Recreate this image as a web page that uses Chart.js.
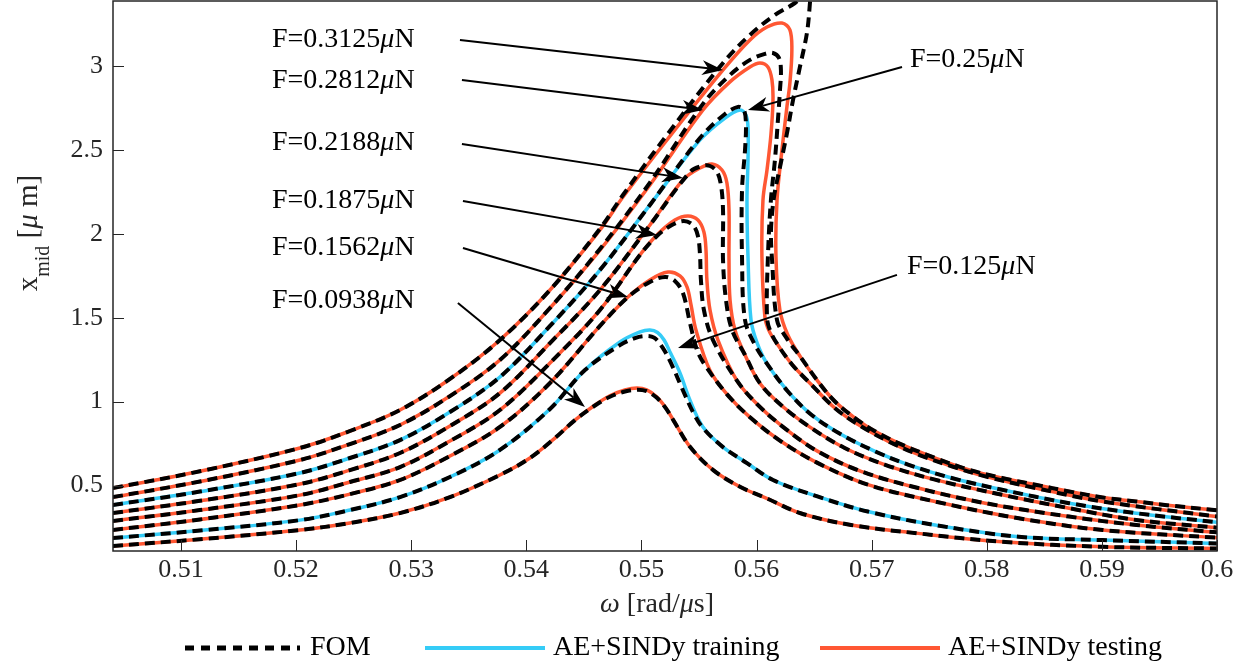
<!DOCTYPE html>
<html>
<head>
<meta charset="utf-8">
<script src="https://cdn.jsdelivr.net/npm/chart.js@4.4.0/dist/chart.umd.min.js"></script>
<style>
  html, body { margin: 0; padding: 0; background: #fff; }
  #wrap { width: 1248px; height: 666px; }
</style>
</head>
<body>
<div id="wrap"><canvas id="freqResp"></canvas></div>
<script>
// forcing amplitudes [uN]; the two training cases are drawn in blue
var forces = [0.0938, 0.125, 0.1562, 0.1875, 0.2188, 0.25, 0.2812, 0.3125];
var trainingForces = [0.125, 0.25];
var xTicks = [0.51, 0.52, 0.53, 0.54, 0.55, 0.56, 0.57, 0.58, 0.59, 0.6];
var yTicks = [0.5, 1, 1.5, 2, 2.5, 3];
var legendLabels = ['FOM', 'AE+SINDy training', 'AE+SINDy testing'];

// frequency response curves, [omega (rad/us), x_mid (um)], in sweep order
var rom0938 = [[0.50409,0.140],[0.51165,0.180],[0.52034,0.235],[0.52468,0.277],[0.52903,0.336],[0.53337,0.431],[0.53771,0.563],[0.54032,0.664],[0.54249,0.783],[0.54423,0.890],[0.54597,0.980],[0.54727,1.035],[0.54857,1.069],[0.54961,1.081],[0.55046,1.070],[0.55132,1.029],[0.55210,0.965],[0.55277,0.890],[0.55422,0.731],[0.55624,0.592],[0.55856,0.493],[0.56088,0.424],[0.56383,0.335],[0.56821,0.265],[0.57404,0.215],[0.58133,0.165],[0.59007,0.135],[0.60000,0.125]];
var fom0938 = [[0.50409,0.140],[0.51165,0.180],[0.52034,0.235],[0.52468,0.277],[0.52903,0.336],[0.53337,0.431],[0.53771,0.563],[0.54032,0.664],[0.54249,0.783],[0.54423,0.890],[0.54597,0.977],[0.54727,1.029],[0.54857,1.060],[0.54961,1.071],[0.55046,1.062],[0.55132,1.024],[0.55210,0.963],[0.55277,0.890],[0.55422,0.731],[0.55624,0.592],[0.55856,0.493],[0.56088,0.424],[0.56383,0.335],[0.56821,0.265],[0.57404,0.215],[0.58133,0.165],[0.59007,0.135],[0.60000,0.125]];

var rom125 = [[0.50409,0.187],[0.51165,0.232],[0.52034,0.294],[0.52468,0.354],[0.52903,0.431],[0.53337,0.551],[0.53771,0.712],[0.54206,0.956],[0.54510,1.188],[0.54814,1.355],[0.54988,1.415],[0.55074,1.427],[0.55140,1.412],[0.55197,1.367],[0.55254,1.288],[0.55335,1.171],[0.55422,1.009],[0.55535,0.849],[0.55709,0.729],[0.55917,0.634],[0.56143,0.533],[0.56529,0.435],[0.56967,0.345],[0.57550,0.265],[0.58278,0.195],[0.59007,0.175],[0.60000,0.155]];
var fom125 = [[0.50409,0.187],[0.51165,0.232],[0.52034,0.294],[0.52468,0.354],[0.52903,0.431],[0.53337,0.551],[0.53771,0.712],[0.54206,0.956],[0.54510,1.188],[0.54814,1.337],[0.54944,1.379],[0.55031,1.391],[0.55110,1.381],[0.55187,1.319],[0.55265,1.218],[0.55352,1.081],[0.55448,0.938],[0.55535,0.843],[0.55709,0.729],[0.55917,0.634],[0.56143,0.533],[0.56529,0.435],[0.56967,0.345],[0.57550,0.265],[0.58278,0.195],[0.59007,0.175],[0.60000,0.155]];

var rom1562 = [[0.50409,0.235],[0.51165,0.298],[0.52034,0.384],[0.52468,0.449],[0.52903,0.533],[0.53337,0.676],[0.53771,0.849],[0.54206,1.111],[0.54640,1.451],[0.54883,1.623],[0.55074,1.725],[0.55231,1.772],[0.55335,1.749],[0.55396,1.683],[0.55431,1.576],[0.55474,1.427],[0.55596,1.185],[0.55742,1.045],[0.55946,0.905],[0.56209,0.765],[0.56529,0.635],[0.56967,0.505],[0.57550,0.405],[0.58278,0.305],[0.59007,0.235],[0.60000,0.189]];
var fom1562 = [[0.50409,0.235],[0.51165,0.298],[0.52034,0.384],[0.52468,0.449],[0.52903,0.533],[0.53337,0.676],[0.53771,0.849],[0.54206,1.111],[0.54640,1.451],[0.54883,1.623],[0.55074,1.713],[0.55205,1.743],[0.55291,1.719],[0.55361,1.647],[0.55422,1.469],[0.55483,1.308],[0.55552,1.218],[0.55742,1.045],[0.55946,0.905],[0.56209,0.765],[0.56529,0.635],[0.56967,0.505],[0.57550,0.405],[0.58278,0.305],[0.59007,0.235],[0.60000,0.189]];

var rom1875 = [[0.50409,0.289],[0.51165,0.354],[0.52034,0.443],[0.52468,0.521],[0.52903,0.610],[0.53337,0.765],[0.53771,0.950],[0.54206,1.230],[0.54640,1.546],[0.54987,1.874],[0.55135,1.993],[0.55291,2.082],[0.55404,2.106],[0.55491,2.082],[0.55543,2.011],[0.55561,1.904],[0.55569,1.725],[0.55596,1.546],[0.55665,1.367],[0.55830,1.125],[0.56005,0.985],[0.56238,0.845],[0.56529,0.705],[0.56908,0.585],[0.57404,0.485],[0.57987,0.395],[0.58716,0.315],[0.59299,0.265],[0.60000,0.221]];
var fom1875 = [[0.50409,0.289],[0.51165,0.354],[0.52034,0.443],[0.52468,0.521],[0.52903,0.610],[0.53337,0.765],[0.53771,0.950],[0.54206,1.230],[0.54640,1.546],[0.54987,1.874],[0.55135,1.987],[0.55265,2.052],[0.55369,2.076],[0.55448,2.052],[0.55491,1.987],[0.55509,1.874],[0.55517,1.725],[0.55543,1.546],[0.55622,1.367],[0.55830,1.125],[0.56005,0.985],[0.56238,0.845],[0.56529,0.705],[0.56908,0.585],[0.57404,0.485],[0.57987,0.395],[0.58716,0.315],[0.59299,0.265],[0.60000,0.221]];

var rom2188 = [[0.50409,0.336],[0.51165,0.409],[0.52034,0.509],[0.52468,0.592],[0.52903,0.694],[0.53337,0.855],[0.53771,1.051],[0.54206,1.349],[0.54640,1.665],[0.55074,2.052],[0.55361,2.321],[0.55509,2.392],[0.55613,2.416],[0.55700,2.380],[0.55743,2.303],[0.55761,2.142],[0.55761,1.844],[0.55770,1.605],[0.55813,1.427],[0.55900,1.278],[0.56034,1.105],[0.56238,0.965],[0.56471,0.845],[0.56762,0.725],[0.57112,0.625],[0.57550,0.535],[0.58133,0.445],[0.58716,0.365],[0.59299,0.295],[0.60000,0.249]];
var fom2188 = [[0.50409,0.336],[0.51165,0.409],[0.52034,0.509],[0.52468,0.592],[0.52903,0.694],[0.53337,0.855],[0.53771,1.051],[0.54206,1.349],[0.54640,1.665],[0.55074,2.052],[0.55422,2.368],[0.55526,2.404],[0.55596,2.404],[0.55657,2.368],[0.55691,2.291],[0.55709,2.142],[0.55709,1.844],[0.55735,1.605],[0.55787,1.427],[0.55900,1.278],[0.56034,1.105],[0.56238,0.965],[0.56471,0.845],[0.56762,0.725],[0.57112,0.625],[0.57550,0.535],[0.58133,0.445],[0.58716,0.365],[0.59299,0.295],[0.60000,0.249]];

var rom25 = [[0.50409,0.384],[0.51165,0.464],[0.52034,0.575],[0.52468,0.664],[0.52903,0.771],[0.53337,0.938],[0.53771,1.147],[0.54206,1.451],[0.54640,1.784],[0.55074,2.172],[0.55509,2.559],[0.55726,2.690],[0.55856,2.738],[0.55908,2.708],[0.55926,2.636],[0.55926,2.440],[0.55917,2.201],[0.55926,1.862],[0.55952,1.486],[0.56005,1.350],[0.56092,1.225],[0.56267,1.065],[0.56471,0.925],[0.56733,0.805],[0.57025,0.705],[0.57316,0.625],[0.57695,0.545],[0.58133,0.475],[0.58716,0.395],[0.59299,0.335],[0.60000,0.281]];
var fom25 = [[0.50409,0.384],[0.51165,0.464],[0.52034,0.575],[0.52468,0.664],[0.52903,0.771],[0.53337,0.938],[0.53771,1.147],[0.54206,1.451],[0.54640,1.784],[0.55074,2.172],[0.55509,2.571],[0.55726,2.714],[0.55839,2.756],[0.55891,2.738],[0.55908,2.648],[0.55900,2.499],[0.55874,2.261],[0.55874,1.862],[0.55900,1.486],[0.55987,1.337],[0.56092,1.225],[0.56267,1.065],[0.56471,0.925],[0.56733,0.805],[0.57025,0.705],[0.57316,0.625],[0.57695,0.545],[0.58133,0.475],[0.58716,0.395],[0.59299,0.335],[0.60000,0.281]];

var rom2812 = [[0.50409,0.431],[0.51165,0.524],[0.52034,0.652],[0.52468,0.747],[0.52903,0.861],[0.53337,1.033],[0.53771,1.248],[0.54206,1.558],[0.54640,1.903],[0.55074,2.291],[0.55535,2.738],[0.55769,2.905],[0.55943,2.994],[0.56030,3.018],[0.56099,2.994],[0.56134,2.917],[0.56143,2.797],[0.56125,2.589],[0.56091,2.380],[0.56056,2.201],[0.56047,1.862],[0.56073,1.504],[0.56110,1.420],[0.56186,1.337],[0.56310,1.220],[0.56471,1.105],[0.56675,0.965],[0.56879,0.865],[0.57141,0.765],[0.57404,0.685],[0.57695,0.615],[0.57987,0.555],[0.58424,0.485],[0.59007,0.405],[0.60000,0.315]];
var fom2812 = [[0.50409,0.431],[0.51165,0.524],[0.52034,0.652],[0.52468,0.747],[0.52903,0.861],[0.53337,1.033],[0.53771,1.248],[0.54206,1.558],[0.54640,1.910],[0.55074,2.305],[0.55535,2.774],[0.55769,2.946],[0.55943,3.036],[0.56073,3.072],[0.56143,3.077],[0.56195,3.048],[0.56212,2.976],[0.56204,2.857],[0.56186,2.678],[0.56160,2.440],[0.56125,2.201],[0.56099,1.862],[0.56091,1.504],[0.56120,1.420],[0.56186,1.337],[0.56310,1.220],[0.56471,1.105],[0.56675,0.965],[0.56879,0.865],[0.57141,0.765],[0.57404,0.685],[0.57695,0.615],[0.57987,0.555],[0.58424,0.485],[0.59007,0.405],[0.60000,0.315]];

var rom3125 = [[0.50409,0.485],[0.51165,0.585],[0.52034,0.724],[0.52468,0.825],[0.52903,0.950],[0.53337,1.135],[0.53771,1.367],[0.54206,1.665],[0.54640,2.023],[0.54840,2.219],[0.55222,2.559],[0.55709,2.976],[0.55943,3.155],[0.56091,3.232],[0.56221,3.256],[0.56290,3.215],[0.56307,3.095],[0.56290,2.899],[0.56264,2.756],[0.56221,2.499],[0.56178,2.201],[0.56169,1.862],[0.56203,1.546],[0.56270,1.400],[0.56383,1.265],[0.56529,1.125],[0.56675,1.005],[0.56850,0.905],[0.57025,0.825],[0.57258,0.745],[0.57550,0.665],[0.57841,0.595],[0.58133,0.545],[0.58424,0.505],[0.58716,0.465],[0.59007,0.429],[0.59299,0.405],[0.59590,0.381],[0.60000,0.353]];
var fom3125 = [[0.50409,0.485],[0.51165,0.585],[0.52034,0.724],[0.52468,0.825],[0.52903,0.950],[0.53337,1.135],[0.53771,1.367],[0.54206,1.665],[0.54640,2.030],[0.54840,2.231],[0.55222,2.589],[0.55709,3.018],[0.55943,3.185],[0.56160,3.304],[0.56334,3.375],[0.56421,3.429],[0.56464,3.417],[0.56464,3.375],[0.56438,3.197],[0.56377,2.994],[0.56317,2.797],[0.56265,2.601],[0.56204,2.398],[0.56152,2.219],[0.56126,2.023],[0.56135,1.844],[0.56178,1.486],[0.56260,1.380],[0.56383,1.265],[0.56529,1.125],[0.56675,1.005],[0.56850,0.905],[0.57025,0.825],[0.57258,0.745],[0.57550,0.665],[0.57841,0.595],[0.58133,0.545],[0.58424,0.505],[0.58716,0.465],[0.59007,0.429],[0.59299,0.405],[0.59590,0.381],[0.60000,0.353]];

var romCurves = [rom0938, rom125, rom1562, rom1875, rom2188, rom25, rom2812, rom3125];
var fomCurves = [fom0938, fom125, fom1562, fom1875, fom2188, fom25, fom2812, fom3125];

var RED = '#ff5733';
var BLUE = '#35ccf7';
var AXIS = '#262626';
var SERIF = '"Liberation Serif", "Times New Roman", serif';

// F labels with arrows, placed in data coordinates
var annotations = [
  { force: 0.3125, at: [0.51791, 3.155], from: [0.53424, 3.155], to: [0.55709, 2.976] },
  { force: 0.2812, at: [0.51791, 2.911], from: [0.53441, 2.917], to: [0.55535, 2.738] },
  { force: 0.2188, at: [0.51791, 2.544], from: [0.53441, 2.535], to: [0.55361, 2.333] },
  { force: 0.1875, at: [0.51791, 2.195], from: [0.53450, 2.195], to: [0.55135, 1.993] },
  { force: 0.1562, at: [0.51791, 1.918], from: [0.53450, 1.915], to: [0.54883, 1.623] },
  { force: 0.0938, at: [0.51791, 1.600], from: [0.53406, 1.588], to: [0.54510, 0.968] },
  { force: 0.25,   at: [0.57333, 3.036], from: [0.57264, 2.994], to: [0.55926, 2.738] },
  { force: 0.125,  at: [0.57307, 1.802], from: [0.57220, 1.755], to: [0.55318, 1.319] }
];

function toPoints(arr) {
  return arr.map(function (p) { return { x: p[0], y: p[1] }; });
}

var datasets = [];
forces.forEach(function (f, i) {
  datasets.push({
    label: legendLabels[0],
    data: toPoints(fomCurves[i]),
    borderColor: '#000',
    borderWidth: 4,
    borderDash: [10, 6],
    order: 0
  });
});
forces.forEach(function (f, i) {
  var training = trainingForces.indexOf(f) >= 0;
  datasets.push({
    label: training ? legendLabels[1] : legendLabels[2],
    data: toPoints(romCurves[i]),
    borderColor: training ? BLUE : RED,
    borderWidth: 3.5,
    order: training ? 2 : 1
  });
});

// draws runs of text where some parts are italic (math symbols)
function richWidth(ctx, parts, size) {
  var w = 0;
  parts.forEach(function (p) {
    ctx.font = (p.it ? 'italic ' : '') + (p.size || size) + 'px ' + SERIF;
    w += ctx.measureText(p.t).width;
  });
  return w;
}
function drawRich(ctx, parts, x, y, size, align) {
  var w = richWidth(ctx, parts, size);
  var cx = align === 'center' ? x - w / 2 : x;
  parts.forEach(function (p) {
    ctx.font = (p.it ? 'italic ' : '') + (p.size || size) + 'px ' + SERIF;
    ctx.fillText(p.t, cx, y + (p.dy || 0));
    cx += ctx.measureText(p.t).width;
  });
}

function drawArrow(ctx, x0, y0, x1, y1) {
  var ang = Math.atan2(y1 - y0, x1 - x0);
  var len = 21, half = 7.5, notch = 15;
  ctx.beginPath();
  ctx.moveTo(x0, y0);
  ctx.lineTo(x1 - notch * Math.cos(ang), y1 - notch * Math.sin(ang));
  ctx.stroke();
  ctx.save();
  ctx.translate(x1, y1);
  ctx.rotate(ang);
  ctx.beginPath();
  ctx.moveTo(0, 0);
  ctx.lineTo(-len, -half);
  ctx.lineTo(-notch, 0);
  ctx.lineTo(-len, half);
  ctx.closePath();
  ctx.fill();
  ctx.restore();
}

var decorations = {
  id: 'decorations',
  afterDatasetsDraw: function (chart) {
    var ctx = chart.ctx;
    var a = chart.chartArea;
    var xs = chart.scales.x, ys = chart.scales.y;
    ctx.save();

    // axes box and inward ticks
    ctx.strokeStyle = AXIS;
    ctx.lineWidth = 1.5;
    ctx.strokeRect(a.left, a.top, a.right - a.left, a.bottom - a.top);
    ctx.lineWidth = 1;
    ctx.beginPath();
    xTicks.forEach(function (v) {
      var px = Math.round(xs.getPixelForValue(v)) + 0.5;
      ctx.moveTo(px, a.bottom);
      ctx.lineTo(px, a.bottom - 11);
    });
    yTicks.forEach(function (v) {
      var py = Math.round(ys.getPixelForValue(v)) + 0.5;
      ctx.moveTo(a.left, py);
      ctx.lineTo(a.left + 11, py);
    });
    ctx.stroke();

    // force labels and arrows
    ctx.fillStyle = '#000';
    ctx.strokeStyle = '#000';
    ctx.lineWidth = 2;
    ctx.textBaseline = 'middle';
    ctx.textAlign = 'left';
    annotations.forEach(function (an) {
      drawRich(ctx, [{ t: 'F=' + an.force }, { t: 'μ', it: true }, { t: 'N' }],
        xs.getPixelForValue(an.at[0]), ys.getPixelForValue(an.at[1]), 28);
      drawArrow(ctx,
        xs.getPixelForValue(an.from[0]), ys.getPixelForValue(an.from[1]),
        xs.getPixelForValue(an.to[0]), ys.getPixelForValue(an.to[1]));
    });

    // x axis title
    ctx.fillStyle = AXIS;
    drawRich(ctx, [{ t: 'ω', it: true }, { t: ' [rad/' }, { t: 'μ', it: true }, { t: 's]' }],
      (a.left + a.right) / 2 - 8, 605, 28, 'center');

    // y axis title, rotated
    ctx.save();
    ctx.translate(37, 233);
    ctx.rotate(-Math.PI / 2);
    ctx.textBaseline = 'alphabetic';
    drawRich(ctx, [{ t: 'x' }, { t: 'mid', size: 20, dy: 12 }, { t: ' [' }, { t: 'μ', it: true }, { t: ' m]' }],
      0, 0, 29, 'center');
    ctx.restore();

    // legend
    var ly = 648;
    var items = [
      { x0: 185, x1: 300, tx: 310, color: '#000', width: 5, dash: [9, 7] },
      { x0: 425, x1: 545, tx: 553, color: BLUE, width: 4, dash: [] },
      { x0: 820, x1: 940, tx: 948, color: RED, width: 4, dash: [] }
    ];
    items.forEach(function (it, i) {
      ctx.strokeStyle = it.color;
      ctx.lineWidth = it.width;
      ctx.setLineDash(it.dash);
      ctx.beginPath();
      ctx.moveTo(it.x0, ly);
      ctx.lineTo(it.x1, ly);
      ctx.stroke();
      ctx.setLineDash([]);
      ctx.fillStyle = '#000';
      ctx.textBaseline = 'middle';
      ctx.font = '28px ' + SERIF;
      ctx.fillText(legendLabels[i], it.tx, ly);
    });

    ctx.restore();
  }
};

function fmt(v) { return String(+Number(v).toFixed(2)); }

// fixed axis sizes, no extra room for overhanging tick labels
function fixX(s) { s.height = 115; s.paddingLeft = 0; s.paddingRight = 0; }
function fixY(s) { s.width = 113; s.paddingTop = 0; s.paddingBottom = 0; }

new Chart(document.getElementById('freqResp'), {
  type: 'scatter',
  data: { datasets: datasets },
  plugins: [decorations],
  options: {
    responsive: true,
    maintainAspectRatio: false,
    animation: false,
    layout: { padding: { top: 1, right: 31, bottom: 0, left: 0 } },
    elements: {
      point: { radius: 0, hoverRadius: 0 },
      line: { tension: 0.35, capBezierPoints: false, fill: false }
    },
    datasets: { scatter: { showLine: true } },
    plugins: { legend: { display: false }, tooltip: { enabled: false } },
    scales: {
      x: {
        type: 'linear',
        min: 0.5041,
        max: 0.6,
        afterBuildTicks: function (s) { s.ticks = xTicks.map(function (v) { return { value: v }; }); },
        afterFit: fixX,
        grid: { display: false },
        border: { display: false },
        ticks: {
          autoSkip: false, maxRotation: 0, padding: -4, color: AXIS,
          font: { family: SERIF, size: 26 },
          callback: fmt
        }
      },
      y: {
        type: 'linear',
        min: 0.110,
        max: 3.387,
        afterBuildTicks: function (s) { s.ticks = yTicks.map(function (v) { return { value: v }; }); },
        afterFit: fixY,
        grid: { display: false },
        border: { display: false },
        ticks: {
          padding: 2, color: AXIS,
          font: { family: SERIF, size: 26 },
          callback: fmt
        }
      }
    }
  }
});
</script>
</body>
</html>
